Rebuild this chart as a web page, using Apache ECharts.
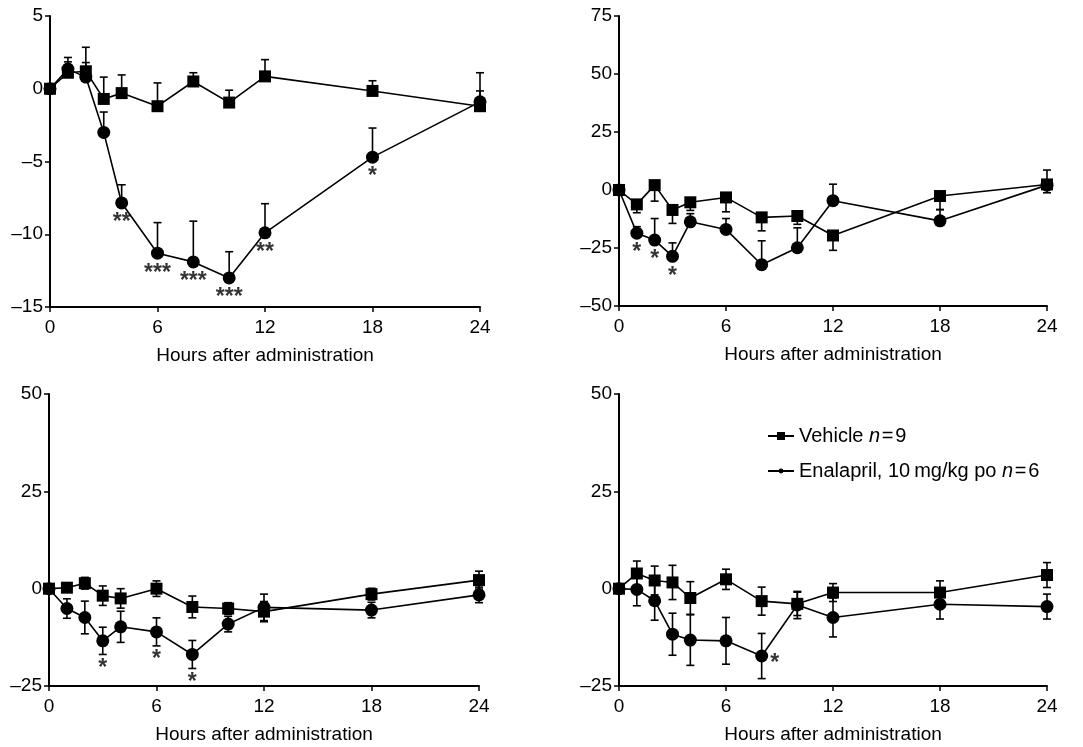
<!DOCTYPE html>
<html>
<head>
<meta charset="utf-8">
<script src="https://cdn.jsdelivr.net/npm/echarts@6/dist/echarts.min.js"></script>
<style>
  html, body { margin: 0; background: #fff; }
  #chart { width: 1083px; height: 747px; }
</style>
</head>
<body>
<div id="chart"></div>
<script>
// sampling times (h)
const hours = [0, 1, 2, 3, 4, 6, 8, 10, 12, 18, 24]
const xTicks = [0, 6, 12, 18, 24]

// top left panel (error bars one-sided: + up, - down)
const ticksA = [-15, -10, -5, 0, 5]
const vehA = [0, 1.1, 1.2, -0.7, -0.3, -1.2, 0.5, -0.95, 0.85, -0.15, -1.2]
const vehAErr = [0, 0.75, 1.65, 1.5, 1.25, 1.6, 0.6, 0.85, 1.15, 0.7, 1.05]
const enaA = [0, 1.35, 0.8, -3.0, -7.85, -11.3, -11.9, -13.0, -9.9, -4.7, -0.9]
const enaAErr = [0, 0.8, 1.0, 1.4, 1.25, 2.1, 2.8, 1.8, 2.0, 2.0, 2.0]
const starsA = ['', '', '', '', '**', '***', '***', '***', '**', '*', '']

// top right panel
const ticksB = [-50, -25, 0, 25, 50, 75]
const vehB = [0, -6.2, 2.1, -8.6, -5.3, -3.2, -11.8, -11.2, -19.6, -2.6, 2.4]
const vehBErr = [0, -3.6, -6.9, -5.8, -3.5, -6.2, -5.8, -3.6, -6.4, -5.8, 6.2]
const enaB = [0, -18.6, -21.6, -28.6, -13.7, -17.0, -32.2, -24.9, -4.6, -13.3, 2.1]
const enaBErr = [0, 2.8, 9.3, 5.8, 3.5, 4.7, 10.3, 8.6, 7.1, 4.8, -3.3]
const starsB = ['', '*', '*', '*', '', '', '', '', '', '', '']

// bottom left panel (two-sided error bars)
const ticksC = [-25, 0, 25, 50]
const vehC = [0, 0.25, 1.4, -1.8, -2.5, 0, -4.7, -5.1, -5.9, -1.4, 2.2]
const vehCErr = [0, 0.8, 1.5, 2.5, 2.5, 2.0, 2.8, 1.5, 2.6, 1.5, 2.3]
const enaC = [0, -5.1, -7.4, -13.4, -9.8, -11.1, -16.9, -9.1, -4.8, -5.5, -1.6]
const enaCErr = [0, 2.5, 4.2, 3.5, 4.0, 3.6, 3.6, 2.0, 3.4, 2.0, 2.0]
const starsC = ['', '', '', '*', '', '*', '*', '', '', '', '']

// bottom right panel
const ticksD = [-25, 0, 25, 50]
const vehD = [0, 3.9, 2.1, 1.6, -2.4, 2.4, -3.2, -3.9, -1.0, -1.0, 3.5]
const vehDErr = [0, 3.2, 3.7, 4.4, 4.2, 2.6, 3.6, 3.0, 2.3, 3.0, 3.2]
const enaD = [0, -0.2, -3.1, -11.7, -13.2, -13.4, -17.3, -4.2, -7.4, -4.0, -4.6]
const enaDErr = [0, 4.2, 5.0, 5.4, 6.5, 6.0, 5.8, 3.5, 5.0, 3.8, 3.2]
const starsD = ['', '', '', '', '', '', '*', '', '', '', '']

const FONT = '"Liberation Sans", Arial, Helvetica, sans-serif'

const panels = [
  { ticks: ticksA, veh: vehA, vehErr: vehAErr, ena: enaA, enaErr: enaAErr, stars: starsA, both: false,
    grid: { left: 50, top: 16, width: 430, height: 291 }, star: { position: 'bottom', distance: 8 } },
  { ticks: ticksB, veh: vehB, vehErr: vehBErr, ena: enaB, enaErr: enaBErr, stars: starsB, both: false,
    grid: { left: 619, top: 16, width: 428, height: 290 }, star: { position: 'bottom', distance: 8 } },
  { ticks: ticksC, veh: vehC, vehErr: vehCErr, ena: enaC, enaErr: enaCErr, stars: starsC, both: true,
    grid: { left: 49, top: 394, width: 430, height: 292 }, star: { position: 'bottom', distance: 16 } },
  { ticks: ticksD, veh: vehD, vehErr: vehDErr, ena: enaD, enaErr: enaDErr, stars: starsD, both: true,
    grid: { left: 619, top: 394, width: 428, height: 292 }, star: { position: 'right', distance: 8, offset: [0, 8] } }
]

// vertical error bar with cap(s)
function errorBar(both) {
  return function (params, api) {
    const x = api.value(0)
    const y = api.value(1)
    const e = api.value(2)
    if (!e) return
    const tip = api.coord([x, y + e])
    const base = api.coord([x, both ? y - e : y])
    const style = { stroke: '#000', lineWidth: 1.6 }
    const children = [
      { type: 'line', shape: { x1: base[0], y1: base[1], x2: tip[0], y2: tip[1] }, style },
      { type: 'line', shape: { x1: tip[0] - 4, y1: tip[1], x2: tip[0] + 4, y2: tip[1] }, style }
    ]
    if (both) {
      children.push({ type: 'line', shape: { x1: base[0] - 4, y1: base[1], x2: base[0] + 4, y2: base[1] }, style })
    }
    return { type: 'group', children }
  }
}

const dash = v => String(v).replace('-', '\u2013')

const grid = []
const xAxis = []
const yAxis = []
const series = []

panels.forEach((p, i) => {
  grid.push(p.grid)
  xAxis.push({
    gridIndex: i,
    type: 'value',
    min: xTicks[0],
    max: xTicks[xTicks.length - 1],
    interval: xTicks[1] - xTicks[0],
    name: 'Hours after administration',
    nameLocation: 'middle',
    nameGap: 39,
    nameTextStyle: { fontSize: 19, color: '#000', fontFamily: FONT },
    axisLine: { show: true, onZero: false, lineStyle: { color: '#000', width: 2 } },
    axisTick: { show: true, inside: false, length: 5, lineStyle: { color: '#000', width: 1.5 } },
    axisLabel: { fontSize: 19, color: '#000', fontFamily: FONT, margin: 11 },
    splitLine: { show: false }
  })
  yAxis.push({
    gridIndex: i,
    type: 'value',
    min: p.ticks[0],
    max: p.ticks[p.ticks.length - 1],
    interval: p.ticks[1] - p.ticks[0],
    axisLine: { show: true, onZero: false, lineStyle: { color: '#000', width: 2 } },
    axisTick: { show: true, inside: false, length: 5, lineStyle: { color: '#000', width: 1.5 } },
    axisLabel: { fontSize: 19, color: '#000', fontFamily: FONT, margin: 7, formatter: dash },
    splitLine: { show: false }
  })

  // error bars first so markers sit on top
  series.push({
    type: 'custom', xAxisIndex: i, yAxisIndex: i, z: 2, silent: true,
    renderItem: errorBar(p.both),
    data: hours.map((h, k) => [h, p.veh[k], p.vehErr[k]])
  })
  series.push({
    type: 'custom', xAxisIndex: i, yAxisIndex: i, z: 2, silent: true,
    renderItem: errorBar(p.both),
    data: hours.map((h, k) => [h, p.ena[k], p.enaErr[k]])
  })
  series.push({
    name: 'Vehicle', type: 'line', xAxisIndex: i, yAxisIndex: i, z: 3,
    symbol: 'rect', symbolSize: 12, showAllSymbol: true,
    itemStyle: { color: '#000' },
    lineStyle: { color: '#000', width: 1.6 },
    data: hours.map((h, k) => [h, p.veh[k]])
  })
  series.push({
    name: 'Enalapril', type: 'line', xAxisIndex: i, yAxisIndex: i, z: 3,
    symbol: 'circle', symbolSize: 13, showAllSymbol: true,
    itemStyle: { color: '#000' },
    lineStyle: { color: '#000', width: 1.6 },
    data: hours.map((h, k) => [h, p.ena[k]])
  })
  // significance marks
  series.push({
    type: 'scatter', xAxisIndex: i, yAxisIndex: i, z: 4, silent: true,
    symbolSize: 1, itemStyle: { color: 'rgba(0,0,0,0)' },
    label: {
      show: true, formatter: '{b}', color: '#000', fontSize: 23, fontWeight: 'bold', fontFamily: FONT,
      position: p.star.position, distance: p.star.distance, offset: p.star.offset || [0, 0]
    },
    data: hours.map((h, k) => ({ name: p.stars[k], value: [h, p.ena[k]] })).filter(d => d.name)
  })
})

const legendText = { fontSize: 20, color: '#000', fontFamily: FONT, rich: { i: { fontSize: 20, fontStyle: 'italic', color: '#000', fontFamily: FONT } } }

const chart = echarts.init(document.getElementById('chart'))
chart.setOption({
  animation: false,
  backgroundColor: '#fff',
  grid,
  xAxis,
  yAxis,
  legend: [
    {
      data: ['Vehicle'], left: 762, top: 421, itemWidth: 26, itemHeight: 10,
      selectedMode: false, textStyle: legendText,
      formatter: () => 'Vehicle {i|n}\u200a=\u200a9'
    },
    {
      data: ['Enalapril'], left: 762, top: 456, itemWidth: 26, itemHeight: 6,
      selectedMode: false, textStyle: legendText,
      formatter: () => 'Enalapril, 10\u2009mg/kg po {i|n}\u200a=\u200a6'
    }
  ],
  series
})
</script>
</body>
</html>
